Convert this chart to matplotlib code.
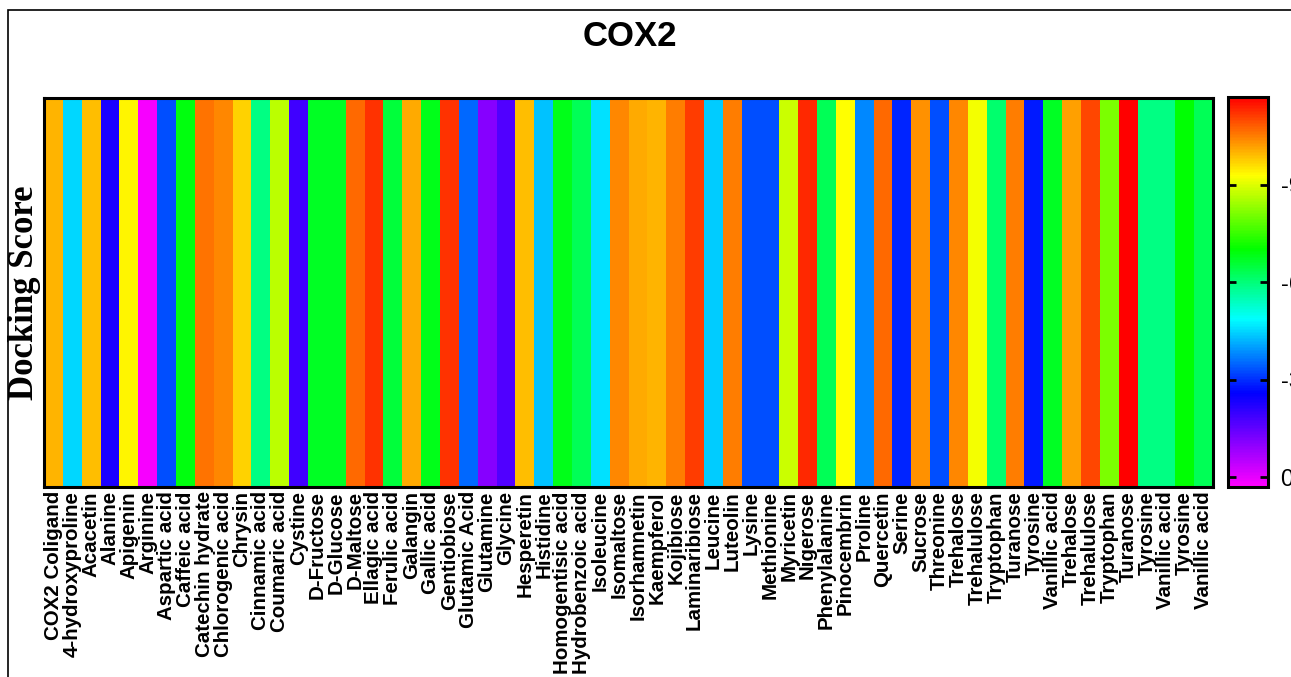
import matplotlib
matplotlib.use("Agg")
import matplotlib.pyplot as plt
import numpy as np
from matplotlib.colors import LinearSegmentedColormap, Normalize
from matplotlib.patches import Rectangle

# docking scores against COX2, one cell per ligand
compounds = [
    "COX2 Coligand", "4-hydroxyproline", "Acacetin", "Alanine", "Apigenin",
    "Arginine", "Aspartic acid", "Caffeic acid", "Catechin hydrate",
    "Chlorogenic acid", "Chrysin", "Cinnamic acid", "Coumaric acid", "Cystine",
    "D-Fructose", "D-Glucose", "D-Maltose", "Ellagic acid", "Ferulic acid",
    "Galangin", "Gallic acid", "Gentiobiose", "Glutamic Acid", "Glutamine",
    "Glycine", "Hesperetin", "Histidine", "Homogentisic acid",
    "Hydrobenzoic acid", "Isoleucine", "Isomaltose", "Isorhamnetin",
    "Kaempferol", "Kojibiose", "Laminaribiose", "Leucine", "Luteolin", "Lysine",
    "Methionine", "Myricetin", "Nigerose", "Phenylalanine", "Pinocembrin",
    "Proline", "Quercetin", "Serine", "Sucrose", "Threonine", "Trehalose",
    "Trehalulose", "Tryptophan", "Turanose", "Tyrosine", "Vanillic acid",
    "Trehalose", "Trehalulose", "Tryptophan", "Turanose", "Tyrosine",
    "Vanillic acid", "Tyrosine", "Vanillic acid",
]
scores = [
    -10.0, -4.5, -9.9, -2.3, -9.4,
    0.2, -3.3, -6.9, -10.6,
    -10.4, -9.7, -5.9, -8.7, -1.9,
    -6.7, -6.7, -10.7, -11.2, -6.5,
    -10.1, -6.8, -11.2, -3.5, -1.1,
    -1.7, -9.9, -4.3, -6.8,
    -6.3, -4.6, -10.4, -10.1,
    -10.0, -10.5, -11.1, -4.4, -10.5, -3.3,
    -3.3, -8.8, -11.3, -6.3, -9.3,
    -3.8, -10.7, -2.9, -10.3, -3.3, -10.4,
    -9.2, -6.1, -10.5, -2.8, -6.7,
    -10.2, -11.0, -8.1, -11.7, -5.9,
    -5.9, -7.0, -6.3,
]
cbar_ticks = [-9, -6, -3, 0]

W, H = 1291, 677
fig = plt.figure(figsize=(W / 100, H / 100), dpi=100)

# rainbow scale: most negative score -> red, zero -> magenta
rainbow = LinearSegmentedColormap.from_list("dock_rainbow", [
    (0.00, (1.0, 0.0, 0.0)),
    (0.10, (1.0, 0.5, 0.0)),
    (0.20, (1.0, 1.0, 0.0)),
    (0.39, (0.0, 1.0, 0.0)),
    (0.57, (0.0, 1.0, 1.0)),
    (0.76, (0.0, 0.0, 1.0)),
    (1.00, (1.0, 0.0, 1.0)),
])
norm = Normalize(vmin=-11.7, vmax=0.3)

ax = fig.add_axes([44 / W, 1 - 487 / H, (1213 - 44) / W, (487 - 98) / H])
data = np.array(scores)[np.newaxis, :]
mesh = ax.pcolormesh(data, cmap=rainbow, norm=norm)
ax.set_xlim(0, len(compounds))
ax.set_ylim(0, 1)
ax.set_xticks(np.arange(len(compounds)) + 0.5)
ax.set_xticklabels(compounds, rotation=90, fontsize=14.8, fontweight="bold",
                   family="Liberation Sans")
ax.set_yticks([])
ax.tick_params(axis="x", length=0, pad=3)
for sp in ax.spines.values():
    sp.set_linewidth(2.2)

ax.set_ylabel("Docking Score", fontsize=25, fontweight="bold",
              family="Liberation Serif", labelpad=2)

cax = fig.add_axes([1228 / W, 1 - 487 / H, 40 / W, (487 - 97) / H])
cbar = fig.colorbar(mesh, cax=cax)
cax.invert_yaxis()
cbar.set_ticks(cbar_ticks)
cbar.set_ticklabels([str(t) for t in cbar_ticks])
cbar.outline.set_linewidth(2.2)
cax.tick_params(axis="y", direction="in", length=6, width=2, left=True,
                right=True, labelsize=17, pad=9)
for lbl in cax.get_yticklabels():
    lbl.set_family("Liberation Sans")
cbar.minorticks_off()

fig.text(630 / W, 1 - 36 / H, "COX2", ha="center", va="center",
         fontsize=25, fontweight="bold", family="Liberation Sans")

# thin frame around the panel
fig.add_artist(Rectangle((8 / W, -0.1), 1.1, 1.1 - 10 / H,
                         transform=fig.transFigure, fill=False,
                         lw=1.2, color="black"))

fig.savefig("out.png", dpi=100)
